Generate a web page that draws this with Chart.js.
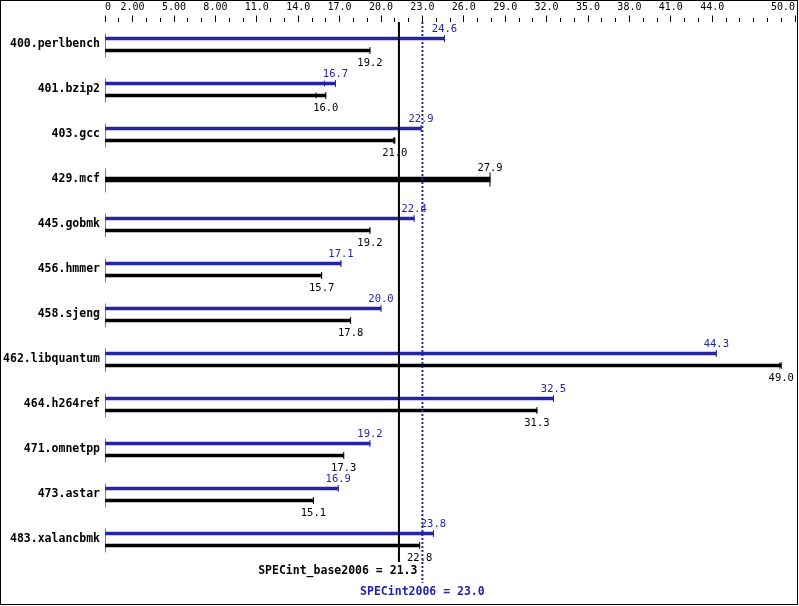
<!DOCTYPE html>
<html>
<head>
<meta charset="utf-8">
<script src="https://cdn.jsdelivr.net/npm/chart.js@4.4.0/dist/chart.umd.min.js"></script>
<style>
body { margin: 0; background: #fff; }
</style>
</head>
<body>
<canvas id="myChart" width="799" height="606"></canvas>
<script>
const benchmarks = ['400.perlbench', '401.bzip2', '403.gcc', '429.mcf', '445.gobmk', '456.hmmer',
	'458.sjeng', '462.libquantum', '464.h264ref', '471.omnetpp', '473.astar', '483.xalancbmk'];
// peak (blue) and base (black) ratios, null = no peak run
const peakData = [24.6, 16.7, 22.9, null, 22.4, 17.1, 20.0, 44.3, 32.5, 19.2, 16.9, 23.8];
const baseData = [19.2, 16.0, 21.0, 27.9, 19.2, 15.7, 17.8, 49.0, 31.3, 17.3, 15.1, 22.8];
// other run results drawn as small ticks
const peakRuns = [null, 15.9, null, null, null, null, null, null, null, null, null, null];
const baseRuns = [null, 15.3, 20.9, null, null, null, null, 48.9, null, null, null, null];
const tickValues = [0, 2, 5, 8, 11, 14, 17, 20, 23, 26, 29, 32, 35, 38, 41, 44, 50];
const tickLabels = ['0', '2.00', '5.00', '8.00', '11.0', '14.0', '17.0', '20.0', '23.0', '26.0',
	'29.0', '32.0', '35.0', '38.0', '41.0', '44.0', '50.0'];
const baseMean = 21.3;
const peakMean = 23.0;

const BLUE = '#2424a8';
const OFF = 0.1333;
const mono = 'DejaVu Sans Mono';

// y position of each bar (peak above, base below, single one centered)
const peakPts = [], basePts = [], singlePts = [];
benchmarks.forEach((b, i) => {
	if (peakData[i] == null) {
		singlePts.push({x: baseData[i], y: i});
	} else {
		peakPts.push({x: peakData[i], y: i - OFF});
		basePts.push({x: baseData[i], y: i + OFF});
	}
});
const peakRunPts = [], baseRunPts = [];
benchmarks.forEach((b, i) => {
	if (peakRuns[i] != null) peakRunPts.push({x: peakRuns[i], y: i - OFF});
	if (baseRuns[i] != null) baseRunPts.push({x: baseRuns[i], y: peakData[i] == null ? i : i + OFF});
});
const originPts = benchmarks.map((b, i) => ({x: 0, y: i + 0.02}));

const capStyle = (color, r) => ({
	type: 'scatter',
	pointStyle: 'line',
	rotation: 90,
	pointRadius: r,
	borderColor: color,
	borderWidth: 1,
	backgroundColor: color,
});

const valueLabels = {
	id: 'valueLabels',
	afterDatasetsDraw(chart) {
		const ctx = chart.ctx;
		ctx.save();
		ctx.font = '10.5px "' + mono + '"';
		ctx.textAlign = 'center';
		ctx.textBaseline = 'alphabetic';
		chart.data.datasets.forEach((ds, di) => {
			if (!ds.labelPos) return;
			const meta = chart.getDatasetMeta(di);
			meta.data.forEach((el, j) => {
				const v = ds.data[j].x.toFixed(1);
				ctx.fillStyle = ds.backgroundColor;
				if (ds.labelPos === 'above') ctx.fillText(v, el.x, el.y - (ds.maxBarThickness > 3 ? 8.5 : 6.5));
				else ctx.fillText(v, el.x, el.y + 16);
			});
		});
		ctx.restore();
	}
};

const meanLines = {
	id: 'meanLines',
	afterDatasetsDraw(chart) {
		const ctx = chart.ctx;
		const area = chart.chartArea;
		const xs = chart.scales.x;
		const xb = xs.getPixelForValue(baseMean);
		const xp = xs.getPixelForValue(peakMean);
		ctx.save();
		ctx.strokeStyle = '#000';
		ctx.lineWidth = 2;
		ctx.beginPath();
		ctx.moveTo(xb, area.top);
		ctx.lineTo(xb, area.bottom);
		ctx.stroke();
		ctx.strokeStyle = BLUE;
		ctx.setLineDash([2, 2]);
		ctx.beginPath();
		ctx.moveTo(xp, area.top);
		ctx.lineTo(xp, area.bottom + 21);
		ctx.stroke();
		ctx.setLineDash([]);
		ctx.font = 'bold 11.5px "' + mono + '"';
		ctx.fillStyle = '#000';
		ctx.textAlign = 'right';
		ctx.fillText('SPECint_base2006 = ' + baseMean.toFixed(1), xp - 5, area.bottom + 12);
		ctx.fillStyle = BLUE;
		ctx.textAlign = 'center';
		ctx.fillText('SPECint2006 = ' + peakMean.toFixed(1), xp, area.bottom + 33);
		ctx.strokeStyle = '#000';
		ctx.lineWidth = 1;
		ctx.strokeRect(0.5, 0.5, 797, 604);
		ctx.restore();
	}
};

const ctx = document.getElementById('myChart');

let chart = new Chart(ctx, {
	type: 'bar',
	data: {
		datasets: [{
				label: 'peak',
				data: peakPts,
				backgroundColor: BLUE,
				maxBarThickness: 3,
				labelPos: 'above',
			},
			{
				label: 'base',
				data: basePts,
				backgroundColor: '#000',
				maxBarThickness: 3,
				labelPos: 'below',
			},
			{
				label: 'base only',
				data: singlePts,
				backgroundColor: '#000',
				maxBarThickness: 5,
				labelPos: 'above',
			},
			Object.assign({data: peakPts}, capStyle(BLUE, 3.5)),
			Object.assign({data: basePts}, capStyle('#000', 3.5)),
			Object.assign({data: singlePts}, capStyle('#000', 7)),
			Object.assign({data: peakRunPts}, capStyle(BLUE, 3)),
			Object.assign({data: baseRunPts}, capStyle('#000', 3)),
			Object.assign({data: originPts}, capStyle('#000', 12)),
		],
	},
	options: {
		indexAxis: 'y',
		responsive: false,
		devicePixelRatio: 1,
		animation: false,
		events: [],
		grouped: false,
		barPercentage: 1,
		categoryPercentage: 1,
		borderWidth: 0,
		layout: {
			autoPadding: false,
			padding: {left: 0, right: 4, top: 0, bottom: 44}
		},
		plugins: {
			legend: {display: false},
			tooltip: {enabled: false},
		},
		scales: {
			x: {
				type: 'linear',
				position: 'top',
				min: 0,
				max: 50,
				offset: false,
				afterBuildTicks: (scale) => {
					const t = [];
					for (let v = 0; v <= 50; v++) t.push({value: v});
					scale.ticks = t;
				},
				afterFit: (scale) => { scale.height = 22; },
				border: {display: false},
				grid: {
					drawOnChartArea: false,
					tickLength: 6.5,
					tickColor: '#000',
					tickWidth: 1,
					tickBorderDash: (c) => (c.tick && tickValues.includes(c.tick.value)) ? [] : [0, 2.3, 20],
				},
				ticks: {
					autoSkip: false,
					maxRotation: 0,
					align: 'inner',
					padding: 2,
					color: '#000',
					font: {family: mono, size: 10},
					callback: (v) => {
						const k = tickValues.indexOf(v);
						return k < 0 ? '' : tickLabels[k];
					}
				}
			},
			y: {
				type: 'linear',
				reverse: true,
				offset: false,
				min: -0.5,
				max: 11.5,
				afterBuildTicks: (scale) => {
					scale.ticks = benchmarks.map((b, i) => ({value: i}));
				},
				afterFit: (scale) => {
					scale.width = 105;
					scale.paddingTop = 0;
					scale.paddingBottom = 0;
				},
				border: {display: false},
				grid: {display: false, drawTicks: false, offset: false},
				ticks: {
					padding: 5,
					color: '#000',
					font: {family: mono, size: 11.5, weight: 'bold'},
					callback: (v) => benchmarks[v]
				}
			}
		}
	},
	plugins: [valueLabels, meanLines]
});
</script>
</body>
</html>
